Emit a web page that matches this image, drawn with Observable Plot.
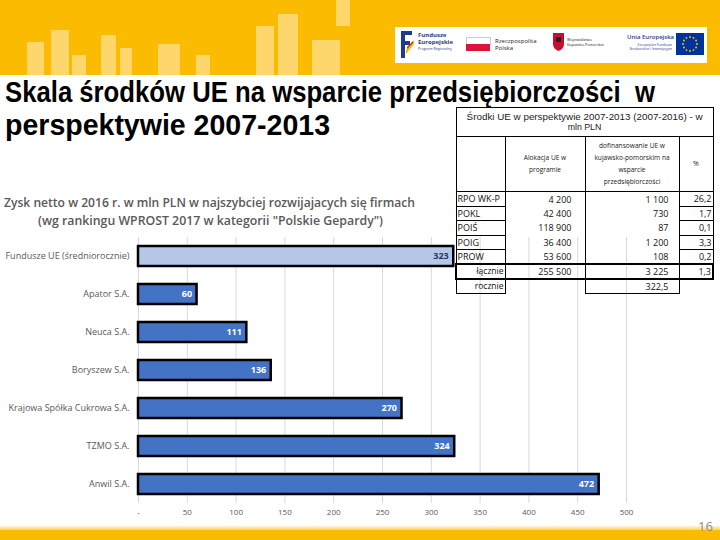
<!DOCTYPE html>
<html><head><meta charset="utf-8">
<script src="https://cdn.jsdelivr.net/npm/d3@7"></script>
<script src="https://cdn.jsdelivr.net/npm/@observablehq/plot@0.6"></script>
<style>
html,body{margin:0;padding:0;width:720px;height:540px;overflow:hidden;background:#fff;font-family:"Open Sans",sans-serif;}
#page{position:relative;width:720px;height:540px;overflow:hidden;}
.abs{position:absolute;}
.nw{white-space:nowrap;display:inline-block;}
#banner{left:0;top:0;width:720px;height:75px;background:#fbbb00;}
.deco{position:absolute;background:rgba(255,255,255,0.42);}
#tbl{position:absolute;left:455px;top:107px;border-collapse:collapse;table-layout:fixed;font-family:"Open Sans",sans-serif;color:#111;z-index:5;}
#tbl td{padding:0;overflow:visible;white-space:nowrap;line-height:1;}
.b{border:1px solid #000;}
.hd{font-size:6.6px;text-align:center;color:#222;line-height:12px !important;}
.num{font-size:9px;text-align:right;}
.lab{font-size:9px;text-align:left;padding-left:1px !important;}
#chart{left:0;top:230px;z-index:1;}
.title{font-family:"Liberation Sans",Arial,sans-serif;font-size:29.5px;font-weight:700;line-height:1;color:#000;}
</style></head>
<body><div id="page">
<div id="banner" class="abs">
  <div class="deco" style="left:27px;top:42px;width:17px;height:33px"></div>
  <div class="deco" style="left:51px;top:30px;width:18px;height:45px"></div>
  <div class="deco" style="left:72px;top:55px;width:14px;height:20px"></div>
  <div class="deco" style="left:101px;top:35px;width:15px;height:40px"></div>
  <div class="deco" style="left:120px;top:48px;width:12px;height:27px"></div>
  <div class="deco" style="left:158px;top:44px;width:22px;height:31px"></div>
  <div class="deco" style="left:196px;top:55px;width:14px;height:20px"></div>
  <div class="deco" style="left:256px;top:26px;width:18px;height:49px"></div>
  <div class="deco" style="left:278px;top:14px;width:20px;height:61px"></div>
  <div class="deco" style="left:312px;top:40px;width:28px;height:35px"></div>
  <div class="deco" style="left:336px;top:0px;width:14px;height:26px"></div>
  <div class="abs" style="left:395px;top:27px;width:312px;height:36px;background:#fff"></div>
  <svg class="abs" style="left:401px;top:31px" width="14" height="27" viewBox="0 0 14 27">
    <path d="M0 0H11V4H4V10H9V14H4V27H0Z" fill="#1f3c88"/>
    <path d="M5 19L13 9V13L5 23Z" fill="#fbbb00"/>
    <path d="M6 16L12 10L12 12L6 18Z" fill="#d8232a"/>
  </svg>
  <div class="abs" style="left:418px;top:32px;color:#1f3c88;font-size:6px;font-weight:700;line-height:7px">Fundusze<br>Europejskie</div>
  <div class="abs" style="left:418px;top:47px;color:#1f3c88;font-size:3.6px;line-height:4px">Program Regionalny</div>
  <div class="abs" style="left:466px;top:37px;width:23px;height:7px;background:#fff;border:0.5px solid #ccc;border-bottom:none"></div>
  <div class="abs" style="left:466px;top:44px;width:23.5px;height:7px;background:#dc143c"></div>
  <div class="abs" style="left:495px;top:38px;color:#222;font-size:6px;line-height:7px">Rzeczpospolita<br>Polska</div>
  <svg class="abs" style="left:553px;top:33px" width="11" height="18" viewBox="0 0 11 18">
    <path d="M0 0H11V11Q11 16 5.5 18Q0 16 0 11Z" fill="#c8102e"/>
    <path d="M3 4H8V9H3Z" fill="#222"/>
  </svg>
  <div class="abs" style="left:567px;top:38px;color:#222;font-size:3.8px;line-height:4.5px">Województwo<br>Kujawsko-Pomorskie</div>
  <div class="abs" style="left:627px;top:34px;color:#1f3c88;font-size:6px;line-height:7px;font-weight:600">Unia Europejska</div>
  <div class="abs" style="left:627px;top:43px;color:#1f3c88;font-size:3.4px;line-height:4px;text-align:right;width:45px">Europejskie Fundusze<br>Strukturalne i Inwestycyjne</div>
  <svg id="euflag" class="abs" style="left:676px;top:33px" width="28" height="22"></svg>
</div>

<div class="abs title" style="left:5px;top:76.5px"><span id="t1" class="nw">Skala środków UE na wsparcie przedsiębiorczości&nbsp; w</span></div>
<div class="abs title" style="left:5px;top:109.5px"><span id="t2" class="nw">perspektywie 2007-2013</span></div>

<div class="abs" style="left:4px;top:195.5px;font-size:13px;font-weight:600;line-height:1;color:#595959"><span id="s1" class="nw">Zysk netto w 2016 r. w mln PLN w najszybciej rozwijajacych się firmach</span></div>
<div class="abs" style="left:38px;top:213.5px;font-size:13px;font-weight:600;line-height:1;color:#595959"><span id="s2" class="nw">(wg rankingu WPROST 2017 w kategorii "Polskie Gepardy")</span></div>

<div id="chart" class="abs"></div>
<table id="tbl"></table>

<div class="abs" style="left:0;top:526px;width:720px;height:4px;background:linear-gradient(#fff6d8,#fcd35a)"></div>
<div class="abs" style="left:0;top:530px;width:720px;height:10px;background:#fbbb00"></div>
<div class="abs" style="left:698px;top:520px;font-size:13px;color:#8c8c8c;line-height:1">16</div>
</div>

<script>
// ---- chart data ----
const companies = ["Fundusze UE (średniorocznie)", "Apator S.A.", "Neuca S.A.", "Boryszew S.A.", "Krajowa Spółka Cukrowa S.A.", "TZMO S.A.", "Anwil S.A."];
const profits = [323, 60, 111, 136, 270, 324, 472];
const xTicks = [0, 50, 100, 150, 200, 250, 300, 350, 400, 450, 500];

// ---- table data ----
const tableTitle = "Środki UE w perspektywie 2007-2013 (2007-2016) - w";
const tableTitle2 = "mln PLN";
const colAlloc = ["Alokacja UE w", "programie"];
const colCofin = ["dofinansowanie UE w", "kujawsko-pomorskim na", "wsparcie", "przedsiębiorczości"];
const colPct = "%";
const programs = ["RPO WK-P", "POKL", "POIŚ", "POIG", "PROW"];
const allocation = ["4 200", "42 400", "118 900", "36 400", "53 600"];
const cofinancing = ["1 100", "730", "87", "1 200", "108"];
const shares = ["26,2", "1,7", "0,1", "3,3", "0,2"];
const totalLabel = "łącznie", totalAlloc = "255 500", totalCofin = "3 225", totalShare = "1,3";
const annualLabel = "rocznie", annualCofin = "322,5";

const data = companies.map((name, i) => ({name, value: profits[i]}));
const BLUE = "#4472c4", LIGHT = "#b4c7e7";
const fmt = d => d === 0 ? "-" : String(d);

const chart = Plot.plot({
  width: 720, height: 295,
  marginLeft: 138, marginRight: 94, marginTop: 7, marginBottom: 22,
  x: {domain: [0, 500], label: null},
  y: {domain: companies, paddingInner: 0.47, paddingOuter: 0.235, label: null},
  color: {type: "identity"},
  style: {fontFamily: "Open Sans, sans-serif", fontSize: "9px", color: "#595959", background: "transparent", overflow: "visible"},
  marks: [
    Plot.gridX(xTicks, {stroke: "#d9d9d9", strokeOpacity: 1, strokeWidth: 1}),
    Plot.barX(data, {x: "value", y: "name", fill: (d, i) => i === 0 ? LIGHT : BLUE, stroke: "#000", strokeWidth: 2.5}),
    Plot.text(data, {x: "value", y: "name", text: d => String(d.value), textAnchor: "end", dx: -5,
      fill: (d, i) => i === 0 ? "#1f3864" : "#fff", fontWeight: "bold", fontSize: 9}),
    Plot.axisX(xTicks, {tickSize: 0, tickPadding: 6, tickFormat: fmt, fontSize: 8, label: null}),
    Plot.axisY({tickSize: 0, tickPadding: 9, fontSize: 9, label: null})
  ]
});
document.getElementById("chart").appendChild(chart);

// ---- table ----
const tbl = document.getElementById("tbl");
const widths = [49, 80, 94, 34];
let html = "<colgroup>" + widths.map(w => `<col style="width:${w}px">`).join("") + "</colgroup>";
html += `<tr style="height:29px"><td colspan="4" class="b" style="text-align:center;font-family:'Liberation Sans',Arial,sans-serif;font-size:8.8px;line-height:10.5px;color:#222"><span id="th1" class="nw">${tableTitle}</span><br>${tableTitle2}</td></tr>`;
html += `<tr style="height:55px"><td class="b"></td><td class="b hd">${colAlloc.join("<br>")}</td><td class="b hd">${colCofin.join("<br>")}</td><td class="b hd" style="font-size:7px">${colPct}</td></tr>`;
programs.forEach((p, i) => {
  html += `<tr style="height:14.5px">
   <td class="lab" style="border:1px solid #000">${p}</td>
   <td class="num" style="padding-right:13px">${allocation[i]}</td>
   <td class="num" style="border-left:1px solid #000;border-right:1px solid #000;padding-right:10px">${cofinancing[i]}</td>
   <td class="num" style="border-bottom:1px solid #000;border-right:1px solid #000;padding-right:1px">${shares[i]}</td></tr>`;
});
const tb = "2px solid #000";
html += `<tr style="height:14.5px">
  <td class="num" style="border-top:${tb};border-bottom:${tb};border-left:${tb};border-right:1px solid #000;padding-right:1px;font-size:8.5px">${totalLabel}</td>
  <td class="num" style="border-top:${tb};border-bottom:${tb};padding-right:13px">${totalAlloc}</td>
  <td class="num" style="border-top:${tb};border-bottom:${tb};border-left:1px solid #000;border-right:1px solid #000;padding-right:10px">${totalCofin}</td>
  <td class="num" style="border-top:${tb};border-bottom:${tb};border-right:${tb};padding-right:1px">${totalShare}</td></tr>`;
html += `<tr style="height:14.5px">
  <td class="num" style="border:1px solid #000;border-top:none;padding-right:1px;font-size:8.5px">${annualLabel}</td>
  <td></td>
  <td class="num" style="border:1px solid #000;border-top:none;padding-right:10px">${annualCofin}</td>
  <td></td></tr>`;
tbl.innerHTML = html;

// EU flag stars
const fl = d3.select("#euflag");
fl.append("rect").attr("width", 28).attr("height", 22).attr("fill", "#003399");
d3.range(12).forEach(k => {
  const a = k * Math.PI / 6;
  fl.append("circle").attr("cx", 14 + 7 * Math.cos(a)).attr("cy", 11 + 7 * Math.sin(a)).attr("r", 0.9).attr("fill", "#ffcc00");
});

function fit(id, w, origin) {
  const el = document.getElementById(id);
  const r = el.getBoundingClientRect().width;
  el.style.transformOrigin = origin || "left center";
  el.style.transform = `scaleX(${w / r})`;
}
fit("t1", 650); fit("t2", 325);
fit("s1", 411); fit("s2", 345);
fit("th1", 236, "center center");
</script>
</body></html>
